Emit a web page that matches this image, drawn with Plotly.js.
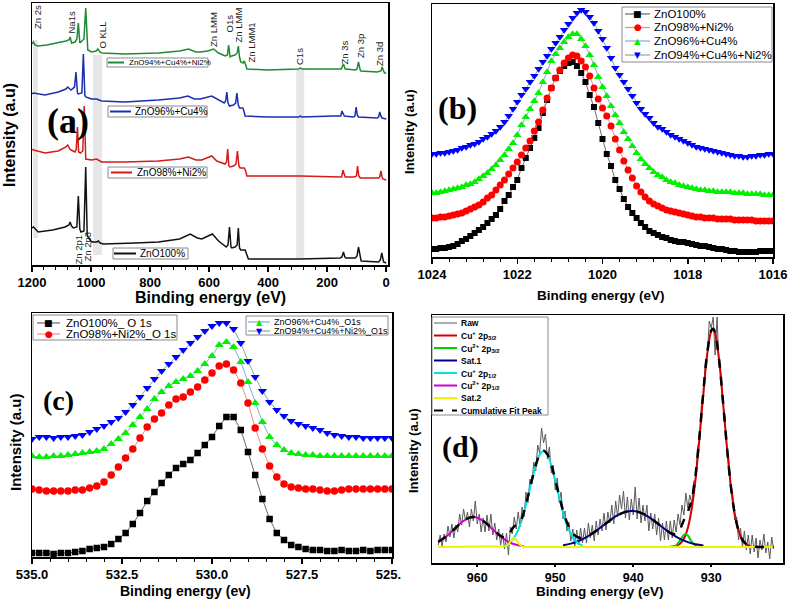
<!DOCTYPE html>
<html><head><meta charset="utf-8">
<script src="https://cdn.plot.ly/plotly-3.0.1.min.js"></script>
<style>html,body{margin:0;padding:0;background:#fff}#chart{width:790px;height:600px}</style>
</head><body><div id="chart"></div>
<script>
// ---------- Panel (a): XPS survey spectra (binding energy, offset intensity a.u.) ----------
const surveyBE_100 = [1200,1195,1179,1130,1088,1075,1071,1066,1060,1048,1043,1038,1034,1024,1018,1013,1008,998,981,975,969,958,850,772,700,664,640,625,589,568,542,536,531,526,523,512,505,501,497,493,478,472,467,291,156,150,145,140,136,105,99,94,89,85,26,20,15,11,9,0];
const survey_100 = [37,38,33,35,38,40,43,39,37,38,69,36,33,34,98,30,27,23,23,24,22,21,22,23,26,31,27,26,31,24,18,20,38,18,17,18,20,37,17,15,15,10,6,6,7,8,13,8,7,7,9,18,8,4,3,5,12,5,3,2];
const surveyBE_Ni = [1200,1195,1156,1111,1085,1079,1072,1068,1054,1050,1046,1042,1036,1028,1023,1018,998,981,964,885,772,700,670,645,625,591,574,546,541,537,533,529,518,509,504,499,495,481,476,472,291,156,151,147,143,139,108,101,97,93,88,26,22,18,14,11,0];
const survey_Ni = [116,115,112,114,118,120,116,115,113,116,138,113,112,114,159,106,105,106,103,103,104,106,108,105,105,109,104,101,103,116,99,98,99,101,114,99,97,97,94,89,89,88,88,95,90,88,88,89,99,89,87,87,88,94,88,86,85];
const surveyBE_Cu = [1200,1195,1156,1111,1085,1079,1072,1068,1056,1051,1046,1043,1031,1026,1021,1018,998,981,964,885,772,700,672,650,636,630,591,574,549,544,540,536,531,518,510,506,501,497,490,486,482,478,404,296,291,286,179,154,150,145,142,111,106,102,98,94,31,26,22,18,14,0];
const survey_Cu = [171,172,170,173,176,178,176,175,178,193,172,171,172,211,170,168,166,166,164,163,165,167,169,166,166,166,169,166,162,164,173,162,159,160,162,172,160,157,157,157,154,149,148,148,149,148,149,149,154,150,149,148,149,158,150,148,147,148,153,149,147,146];
const surveyBE_CuNi = [1200,1195,1190,1180,1150,1110,1085,1075,1071,1066,1054,1048,1043,1038,1030,1024,1018,1011,998,983,977,970,962,885,772,700,670,645,630,605,585,568,546,538,534,529,524,512,505,501,497,493,485,481,476,472,404,296,291,286,179,152,145,139,136,105,99,94,89,86,31,18,14,10,6,0];
const survey_CuNi = [221,223,220,219,220,222,224,225,228,222,223,226,242,222,224,226,257,215,213,214,216,213,212,211,212,214,216,213,213,214,216,212,209,210,220,208,209,210,212,219,208,203,202,204,200,196,195,196,197,196,196,196,201,196,196,195,196,203,196,194,193,194,198,194,192,192];
const surveyNames = ['ZnO100%','ZnO98%+Ni2%','ZnO96%+Cu4%','ZnO94%+Cu4%+Ni2%'];
const peakLabels = ['Zn 2s','Na1s','O KLL','Zn LMM','O1s','Zn LMM','Zn LMM1','C1s','Zn 3s','Zn 3p','Zn 3d','Zn 2p1','Zn 2p3'];

// ---------- Panel (b): Zn 2p3/2 ----------
const bBE = [1024,1023.9,1023.8,1023.7,1023.6,1023.5,1023.4,1023.3,1023.2,1023.1,1023,1022.9,1022.8,1022.7,1022.6,1022.5,1022.4,1022.3,1022.2,1022.1,1022,1021.9,1021.8,1021.7,1021.6,1021.5,1021.4,1021.3,1021.2,1021.1,1021,1020.9,1020.8,1020.7,1020.6,1020.5,1020.4,1020.3,1020.2,1020.1,1020,1019.9,1019.8,1019.7,1019.6,1019.5,1019.4,1019.3,1019.2,1019.1,1019,1018.9,1018.8,1018.7,1018.6,1018.5,1018.4,1018.3,1018.2,1018.1,1018,1017.9,1017.8,1017.7,1017.6,1017.5,1017.4,1017.3,1017.2,1017.1,1017,1016.9,1016.8,1016.7,1016.6,1016.5,1016.4,1016.3,1016.2,1016.1,1016];
const zn2p_100 = [8,8,9,9,10,11,13,16,18,21,24,27,30,34,38,42,48,56,62,70,77,89,99,109,119,129,144,157,169,179,186,191,194,195,191,184,175,162,150,134,118,103,91,77,68,58,50,44,39,34,30,26,24,22,20,19,17,16,15,15,14,13,12,11,11,10,9,8,8,7,6,6,5,5,5,5,5,6,6,6,6];
const zn2p_Ni = [39,39,40,40,41,42,43,44,46,48,50,52,55,59,62,67,72,77,83,89,95,102,109,116,126,135,147,159,169,179,187,194,199,202,201,196,190,181,169,158,149,141,131,118,107,96,87,79,71,65,60,56,53,51,49,47,46,45,44,43,42,41,40,40,39,39,39,38,38,38,38,37,37,37,37,37,36,36,36,36,36];
const zn2p_Cu = [64,64,65,66,67,68,69,70,72,73,75,78,81,84,88,92,97,102,108,114,122,132,140,148,156,164,175,185,196,203,209,215,220,223,223,218,211,202,192,180,170,161,151,142,134,125,118,111,104,98,93,89,85,82,80,77,75,74,72,71,70,69,68,67,67,66,66,65,65,65,65,64,64,64,63,63,63,63,62,62,62];
const zn2p_CuNi = [103,103,104,104,105,106,107,109,110,112,113,115,118,120,123,126,130,135,141,148,155,162,168,175,181,188,195,201,208,214,220,227,233,239,244,247,245,240,234,226,218,209,199,189,182,175,168,161,154,148,143,139,134,130,128,125,122,120,118,116,114,112,110,109,108,107,106,105,104,103,102,101,101,100,100,101,101,102,102,103,103];

// ---------- Panel (c): O 1s ----------
const cBE = [535,534.8,534.6,534.4,534.2,534,533.8,533.6,533.4,533.2,533,532.8,532.6,532.4,532.2,532,531.8,531.6,531.4,531.2,531,530.8,530.6,530.4,530.2,530,529.8,529.6,529.4,529.2,529,528.8,528.6,528.4,528.2,528,527.8,527.6,527.4,527.2,527,526.8,526.6,526.4,526.2,526,525.8,525.6,525.4,525.2,525];
const o1s_100 = [4,4,4,3,4,4,5,6,8,9,10,13,18,24,33,44,56,65,74,82,89,93,97,104,112,120,131,140,140,127,105,82,58,38,24,17,12,10,8,7,7,6,6,7,6,6,7,6,7,7,7];
const o1s_Ni = [68,67,66,66,66,66,67,67,69,71,75,82,90,99,108,119,130,138,144,152,158,160,165,170,177,184,191,193,187,174,154,129,108,91,80,73,70,69,68,68,67,66,66,67,68,68,68,68,68,68,68];
const o1s_Cu = [101,100,100,101,101,102,103,104,105,106,108,113,118,124,132,140,148,158,165,171,175,178,181,186,193,201,212,215,210,195,175,154,135,120,112,107,104,103,102,102,101,101,101,101,101,101,101,101,101,101,101];
const o1s_CuNi = [118,120,120,119,120,120,121,122,125,128,131,135,139,145,152,160,169,178,186,193,200,207,214,220,226,231,234,234,228,214,196,180,166,155,147,141,136,133,131,129,127,124,122,121,120,120,119,119,119,119,119];
const o1sNames = ['ZnO100%_ O 1s','ZnO98%+Ni2%_O 1s','ZnO96%+Cu4%_O1s','ZnO94%+Cu4%+Ni2%_O1s'];

// ---------- Panel (d): Cu 2p fit ----------
const rawBE = [965,964.75,964.5,964.25,964,963.75,963.5,963.25,963,962.75,962.5,962.25,962,961.75,961.5,961.25,961,960.75,960.5,960.25,960,959.75,959.5,959.25,959,958.75,958.5,958.25,958,957.75,957.5,957.25,957,956.75,956.5,956.25,956,955.75,955.5,955.25,955,954.75,954.5,954.25,954,953.75,953.5,953.25,953,952.75,952.5,952.25,952,951.75,951.5,951.25,951,950.75,950.5,950.25,950,949.75,949.5,949.25,949,948.75,948.5,948.25,948,947.75,947.5,947.25,947,946.75,946.5,946.25,946,945.75,945.5,945.25,945,944.75,944.5,944.25,944,943.75,943.5,943.25,943,942.75,942.5,942.25,942,941.75,941.5,941.25,941,940.75,940.5,940.25,940,939.75,939.5,939.25,939,938.75,938.5,938.25,938,937.75,937.5,937.25,937,936.75,936.5,936.25,936,935.75,935.5,935.25,935,934.75,934.5,934.25,934,933.75,933.5,933.25,933,932.75,932.5,932.25,932,931.75,931.5,931.25,931,930.75,930.5,930.25,930,929.75,929.5,929.25,929,928.75,928.5,928.25,928,927.75,927.5,927.25,927,926.75,926.5,926.25,926,925.75,925.5,925.25,925,924.75,924.5,924.25,924,923.75,923.5,923.25,923,922.75,922.5,922.25,922];
const rawI = [18,28,17,29,21,37,26,39,25,38,31,49,38,54,42,51,36,54,42,62,39,49,31,45,31,48,32,49,28,40,23,34,18,30,14,30,8,36,29,46,34,51,36,56,46,71,60,84,79,101,92,118,110,135,120,129,104,116,90,98,73,85,61,71,44,52,32,41,22,34,16,33,18,35,20,35,20,40,25,38,22,42,28,44,32,50,33,51,40,58,39,62,46,68,54,72,45,66,43,64,48,76,44,65,40,58,42,58,32,50,34,49,28,45,22,40,23,42,23,42,25,43,31,49,38,58,48,70,55,68,60,82,83,116,123,160,165,201,208,242,235,246,208,246,198,190,158,146,112,105,72,70,43,46,23,35,16,32,13,28,9,28,11,25,5,23,13,29,10,21,4,26,14];
const cu1_32BE = [935.5,935,934.5,934,933.5,933,932.5,932,931.5,931,930.5,930,929.8,929.5,929,928.5,928,927.5,927,926.5,926,925.5,925];
const cu1_32 = [16.1,16.4,17.1,19.3,24.4,35.1,54.5,84.9,125.6,170.8,210,232,234,229.4,203.3,161.8,116.9,77.9,49.8,32.4,23,18.7,16.9];
const cu2_32BE = [935,934.5,934,933.5,933.3,933,932.5,932,931.5];
const cu2_32 = [16.2,17.8,22.6,28.3,29,27.5,21.3,17.2,16.1];
const sat1BE = [949,948,947,946,945,944,943,942,941,940,939,938,937,936,935,934,933,932,931];
const sat1 = [17.8,19.4,22,25.8,30.8,36.6,42.6,47.8,51.1,51.9,50.1,45.9,40.3,34.2,28.7,24.2,20.9,18.7,17.4];
const cu1_12BE = [956.5,956,955.5,955,954.5,954,953.5,953,952.5,952,951.5,951,950.5,950,949.5,949,948.5,948,947.5,947,946.5];
const cu1_12 = [17.6,19.5,23,29,38.1,50.6,66,82.5,97.5,108.2,112,108.2,97.5,82.5,66,50.6,38.1,29,23,19.5,17.6];
const cu2_12BE = [965,964,963,962,961,960.5,960,959,958,957,956,955,954];
const cu2_12 = [21.2,26.4,33.4,40.7,45.4,46,45.4,40.7,33.4,26.4,21.2,18.2,16.8];
const sat2BE = [965,956.6,956.3,956,955.8,955.6,955.45,955.3,955.15,955,954.8,954.6,954.3,954,922];
const sat2 = [16,16.1,16.8,18.7,20.9,23.2,24.5,25,24.5,23.2,20.9,18.7,16.8,16.1,16];
const cumBE = [965,964,963,962,961,960.5,960,959,958,957,956.5,956,955.5,955,954.5,954,953.5,953,952.5,952,951.5,951,950.5,950,949.5,949,948.5,948,947.5,947,946.5,946,945,944,943,942,941,940,939,938,937,936,935,934.5,934,933.5,933,932.5,932,931.5,931,930.5,930,929.75,929.5,929,928.5,928,927.5,927,926.5,926,925.5,925,924,923,922];
const cum = [21.2,26.4,33.4,40.7,45.4,46,45.4,40.7,33.5,27.1,25.4,27.4,34.6,38.4,41.3,51.5,66.5,82.8,97.7,108.4,112.3,108.6,98.1,83.4,67.3,52.4,40.6,32.4,27.6,25.5,25.4,26.5,30.9,36.6,42.6,47.8,51.1,51.9,50.1,45.9,40.3,34.2,29.3,29.2,34.1,43.1,51.5,63.5,88.8,127.6,172.2,211,232.7,234.3,229.9,203.6,162,117,77.9,49.8,32.4,23,18.7,16.9,16.1,16,16];
const fitNames = ['Raw','Cu<sup>+</sup> 2p<sub>3/2</sub>','Cu<sup>2+</sup> 2p<sub>3/2</sub>','Sat.1','Cu<sup>+</sup> 2p<sub>1/2</sub>','Cu<sup>2+</sup> 2p<sub>1/2</sub>','Sat.2','Cumulative Fit Peak'];

// ---------- styling ----------
const FONT = 'Liberation Sans, Arial, sans-serif';
const SERIF = 'Liberation Serif, Times New Roman, serif';
const W = 790, H = 600;
const PX = x => x / W, PY = y => 1 - y / H;

const survCol = ['#111111', '#d41a1a', '#1a2fae', '#1e8a34'];
const mk = [
  {sym:'square', col:'#000000', line:'#6a6a6a', size:6, glyph:'■', gs:9},
  {sym:'circle', col:'#ff0000', line:'#f08a8a', size:7, glyph:'●', gs:9},
  {sym:'triangle-up', col:'#00f000', line:'#86a9dc', size:7.5, glyph:'▲', gs:8.5},
  {sym:'triangle-down', col:'#0000ff', line:'#7fae92', size:7.5, glyph:'▼', gs:8.5}
];
const fitCol = ['#5a5a5a', '#d00000', '#00d000', '#000090', '#00e0e0', '#d000d0', '#f0f000', '#000000'];

const traces = [];
// (a)
[[surveyBE_100, survey_100],[surveyBE_Ni, survey_Ni],[surveyBE_Cu, survey_Cu],[surveyBE_CuNi, survey_CuNi]].forEach((d, i) => {
  traces.push({x:d[0], y:d[1], xaxis:'x', yaxis:'y', mode:'lines', name:surveyNames[i], line:{color:survCol[i], width:1.5}, showlegend:false});
});
// (b)
[zn2p_100, zn2p_Ni, zn2p_Cu, zn2p_CuNi].forEach((d, i) => {
  traces.push({x:bBE, y:d, xaxis:'x2', yaxis:'y2', mode:'lines+markers', name:surveyNames[i],
    line:{color:mk[i].line, width:1}, marker:{symbol:mk[i].sym, color:mk[i].col, size:mk[i].size, line:{width:0}}, showlegend:false});
});
// (c)
[o1s_100, o1s_Ni, o1s_Cu, o1s_CuNi].forEach((d, i) => {
  traces.push({x:cBE, y:d, xaxis:'x3', yaxis:'y3', mode:'lines+markers', name:o1sNames[i],
    line:{color:mk[i].line, width:1}, marker:{symbol:mk[i].sym, color:mk[i].col, size:mk[i].size+0.5, line:{width:0}}, showlegend:false});
});
// (d)
const fitSets = [[rawBE, rawI],[cu1_32BE, cu1_32],[cu2_32BE, cu2_32],[sat1BE, sat1],[cu1_12BE, cu1_12],[cu2_12BE, cu2_12],[sat2BE, sat2],[cumBE, cum]];
fitSets.forEach((d, i) => {
  const ln = {color:fitCol[i], width: i === 0 ? 1 : 2};
  if (i > 0 && i !== 6) ln.shape = 'spline';
  if (i === 7) { ln.dash = 'dash'; ln.width = 2.5; }
  traces.push({x:d[0], y:d[1], xaxis:'x4', yaxis:'y4', mode:'lines', name:fitNames[i], line:ln, showlegend:false});
});

const baseX = {showline:true, linecolor:'#000', linewidth:1.5, mirror:true, ticks:'outside', ticklen:5, tickwidth:1.5, tickcolor:'#000',
  showgrid:false, zeroline:false, tickfont:{family:FONT, size:13, color:'#000', weight:'bold'}, fixedrange:true};
const baseY = {showline:true, linecolor:'#000', linewidth:1.5, mirror:true, ticks:'', showticklabels:false, showgrid:false, zeroline:false, fixedrange:true};
const minor = d => ({ticks:'outside', ticklen:3, tickwidth:1, tickcolor:'#000', dtick:d});

const shapes = [];
const annotations = [];
function ann(text, px, py, o) {
  annotations.push(Object.assign({xref:'paper', yref:'paper', x:PX(px), y:PY(py), text:text, showarrow:false,
    xanchor:'center', yanchor:'middle', font:{family:FONT, size:12, color:'#000'}}, o || {}));
}
function rect(x0, y0, x1, y1, o) {
  shapes.push(Object.assign({type:'rect', xref:'paper', yref:'paper', x0:PX(x0), x1:PX(x1), y0:PY(y0), y1:PY(y1),
    line:{color:'#8a8a8a', width:1}, fillcolor:'rgba(255,255,255,1)', layer:'above'}, o || {}));
}
function hline(x0, x1, y, color, width, dash) {
  shapes.push({type:'line', xref:'paper', yref:'paper', x0:PX(x0), x1:PX(x1), y0:PY(y), y1:PY(y), line:{color:color, width:width, dash:dash || 'solid'}, layer:'above'});
}

// grey reference bands in (a)
[[1196, 1180, 225, 27],[993, 963, 210, 10],[305, 278, 195, 7]].forEach(b => {
  shapes.push({type:'rect', xref:'x', yref:'y', x0:b[0], x1:b[1], y0:b[3], y1:b[2], fillcolor:'#e6e6e6', line:{width:0}, layer:'below'});
});

// (a) inline legends
const aLeg = [
  {box:[113,248,188,259], l:[114,136], t:138, y:253.5, fs:10, i:0},
  {box:[108,167,207,178], l:[111,132], t:135, y:172.5, fs:10, i:1},
  {box:[108,106,207,117], l:[110,131], t:133, y:111.5, fs:10, i:2},
  {box:[107,58,208,67], l:[108,124], t:127, y:62.5, fs:8, i:3}
];
aLeg.forEach(g => {
  rect(g.box[0], g.box[1], g.box[2], g.box[3]);
  hline(g.l[0], g.l[1], g.y, survCol[g.i], 2);
  ann(surveyNames[g.i], g.t, g.y, {xanchor:'left', font:{family:FONT, size:g.fs, color:'#000'}});
});
// (a) peak labels
const pl = [[38,17],[71,22.5],[101.5,35],[213,30],[228.5,24],[238.5,25],[251,42.5],[299.5,56.5],[344,52.5],[360,46],[380,54],[77.5,250],[87.5,247]];
peakLabels.forEach((t, i) => ann(t, pl[i][0], pl[i][1], {textangle:-90, font:{family:FONT, size:9.5, color:'#1a1a1a'}}));

// (b) legend
rect(622, 7, 772, 62);
[14, 27.5, 41, 55].forEach((y, i) => {
  hline(625, 650, y, mk[i].line, 1.2);
  ann(mk[i].glyph, 637.5, y, {font:{family:'DejaVu Sans', size:mk[i].gs, color:mk[i].col}});
  ann(surveyNames[i], 652, y, {xanchor:'left', font:{family:FONT, size:11.5, color:'#000'}});
});
// (c) legends
rect(33, 315, 177, 340);
[323, 334].forEach((y, i) => {
  hline(37, 60, y, mk[i].line, 1.2);
  ann(mk[i].glyph, 48.5, y, {font:{family:'DejaVu Sans', size:mk[i].gs, color:mk[i].col}});
  ann(o1sNames[i], 64, y, {xanchor:'left', font:{family:FONT, size:11.5, color:'#000'}});
});
rect(246, 316, 388, 335);
[322, 331].forEach((y, k) => {
  const i = k + 2;
  hline(248, 270, y, mk[i].line, 1.2);
  ann(mk[i].glyph, 259, y, {font:{family:'DejaVu Sans', size:8, color:mk[i].col}});
  ann(o1sNames[i], 272, y, {xanchor:'left', font:{family:FONT, size:9, color:'#000'}});
});
// (d) legend
rect(432, 317, 548, 415);
[323, 335.5, 348, 360.5, 373, 385.5, 398, 410.5].forEach((y, i) => {
  hline(434, 457, y, fitCol[i], i === 0 ? 1 : 2, i === 7 ? 'dash' : 'solid');
  ann(fitNames[i], 459, y, {xanchor:'left', font:{family:FONT, size:8.5, color:'#000', weight:'bold'}});
});

// panel letters
ann('(a)', 68, 121, {font:{family:SERIF, size:36, color:'#000', weight:'bold'}});
ann('(b)', 457, 108, {font:{family:SERIF, size:32, color:'#000', weight:'bold'}});
ann('(c)', 58, 400, {font:{family:SERIF, size:28, color:'#000', weight:'bold'}});
ann('(d)', 460, 447, {font:{family:SERIF, size:30, color:'#000', weight:'bold'}});

// axis titles
const tb = s => ({family:FONT, size:s, color:'#000', weight:'bold'});
ann('Binding energy (eV)', 211, 297, {font:tb(16)});
ann('Intensity (a.u)', 9, 135, {textangle:-90, font:tb(16)});
ann('Binding energy (eV)', 601, 295, {font:tb(13.5)});
ann('Intensity (a.u)', 410, 132, {textangle:-90, font:tb(13)});
ann('Binding energy (ev)', 185, 591, {font:tb(14)});
ann('Intensity (a.u)', 15, 442, {textangle:-90, font:tb(15)});
ann('Binding energy (eV)', 600, 591.5, {font:tb(13.5)});
ann('Intensity (a.u)', 413, 451, {textangle:-90, font:tb(13)});

// clip of the last (c) tick label, as in the source figure
shapes.push({type:'rect', xref:'paper', yref:'paper', x0:PX(401), x1:PX(428), y0:PY(582), y1:PY(558), fillcolor:'#fff', line:{width:0}, layer:'above'});

const layout = {
  width:W, height:H, margin:{l:0, r:0, t:0, b:0}, paper_bgcolor:'#fff', plot_bgcolor:'#fff', showlegend:false,
  font:{family:FONT, color:'#000'},
  xaxis: Object.assign({}, baseX, {domain:[PX(32), PX(388)], range:[1200, -6], dtick:200, tick0:0, minor:minor(40), anchor:'y'}),
  yaxis: Object.assign({}, baseY, {domain:[PY(265), PY(3)], range:[0, 262], anchor:'x'}),
  xaxis2: Object.assign({}, baseX, {domain:[PX(432), PX(773)], range:[1024, 1016], dtick:2, tick0:1016, minor:minor(0.4), anchor:'y2'}),
  yaxis2: Object.assign({}, baseY, {domain:[PY(257), PY(4)], range:[0, 253], anchor:'x2'}),
  xaxis3: Object.assign({}, baseX, {domain:[PX(32), PX(392)], range:[535, 525], dtick:2.5, tick0:525, tickformat:'.1f', minor:minor(0.5), anchor:'y3'}),
  yaxis3: Object.assign({}, baseY, {domain:[PY(557), PY(313)], range:[0, 244], anchor:'x3'}),
  xaxis4: Object.assign({}, baseX, {domain:[PX(432), PX(783)], range:[965.8, 920.8], dtick:10, tick0:930, ticklen:2, anchor:'y4',
    tickfont:{family:FONT, size:12.5, color:'#000', weight:'bold'}}),
  yaxis4: Object.assign({}, baseY, {domain:[PY(563), PY(315)], range:[0, 248], anchor:'x4'}),
  shapes:shapes, annotations:annotations
};
Plotly.newPlot('chart', traces, layout, {staticPlot:true, displayModeBar:false});
</script></body></html>
